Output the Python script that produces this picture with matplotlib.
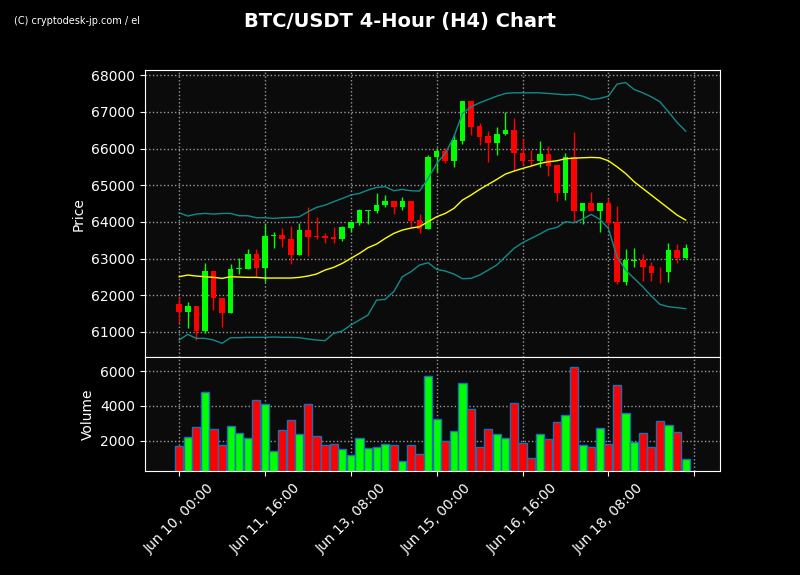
import matplotlib
matplotlib.use("Agg")
import matplotlib.pyplot as plt
import numpy as np

def p(z): return 68136 - 9.08*z

opens_z = [702,725,708,783,603,683,728,598,596,552,593,498,495,508,555,480,498,498,502,507,473,458,422,422,405,393,410,393,451,478,
           262,243,272,212,93,168,198,218,193,180,250,270,272,252,285,368,262,422,400,424,400,455,635,572,570,588,605,607,540,563]
closes_z = [725,708,783,603,683,728,598,594,552,593,498,494,508,555,480,500,500,503,507,470,455,420,420,405,393,410,393,453,478,262,
            243,272,210,93,170,200,218,192,180,250,272,272,252,287,368,262,422,400,424,400,458,635,570,570,590,608,607,540,563,535]
highs_z = [680,695,708,580,603,683,583,565,538,538,462,486,475,468,460,412,442,488,472,468,455,418,420,370,375,393,380,393,432,256,
           235,235,193,93,93,160,183,172,127,145,205,240,213,228,285,250,186,400,367,400,383,407,536,535,552,575,590,520,522,523]
lows_z = [760,775,810,790,720,770,728,612,596,618,636,535,532,583,555,558,508,520,520,512,485,465,462,430,412,432,420,470,490,478,
          305,280,290,222,196,226,275,256,196,302,285,285,292,318,393,390,455,462,424,487,470,642,645,592,632,632,640,637,580,568]
opens = [round(p(z)) for z in opens_z]
closes = [round(p(z)) for z in closes_z]
highs = [round(p(z)) for z in highs_z]
lows = [round(p(z)) for z in lows_z]

volumes = [1710,2223,2792,4785,2679,1767,2849,2451,2166,4330,4102,1426,2622,3191,2394,4102,2280,1767,1824,1540,
           1198,2166,1597,1654,1824,1767,856,1767,1255,5696,3248,1995,2565,5298,3817,1654,2679,2394,2166,4159,
           1881,1027,2394,2109,3077,3476,6209,1767,1654,2735,1824,5184,3590,1938,2451,1654,3134,2906,2508,970]

mid_z = [620,615,618,620,622,625,620,621,622,622,624,624,624,624,622,618,612,600,592,580,565,550,533,522,505,490,480,474,470,455,
         440,430,415,390,375,358,343,328,312,303,295,288,280,275,272,266,264,263,262,263,272,290,310,335,355,375,395,415,435,450]
upper_z = [428,438,432,430,432,430,430,437,437,443,443,445,443,442,440,425,412,405,395,385,375,370,360,352,350,362,358,362,363,325,
           280,250,200,130,110,98,88,78,70,68,68,68,68,70,72,74,73,78,88,85,78,42,37,58,68,80,95,125,157,183]
lower_z = [810,793,805,805,810,820,803,803,802,802,802,801,802,802,803,807,810,812,790,783,765,750,735,690,688,665,620,605,585,578,
           598,603,612,626,625,615,600,585,560,535,518,505,492,478,472,455,458,447,433,448,475,560,600,625,650,678,703,710,713,716]
sma = [p(z) for z in mid_z]
bb_upper = [p(z) for z in upper_z]
bb_lower = [p(z) for z in lower_z]

tick_pos = [0,10,20,30,40,50,60]
tick_labels = ["Jun 10, 00:00","Jun 11, 16:00","Jun 13, 08:00","Jun 15, 00:00","Jun 16, 16:00","Jun 18, 08:00",""]

fig = plt.figure(figsize=(8,5.75), dpi=100, facecolor="black")
axp = fig.add_axes([0.181,0.379,0.719,0.499])
axv = fig.add_axes([0.181,0.181,0.719,0.198], sharex=axp)
x = np.arange(len(opens))
for ax in (axp, axv):
    ax.set_facecolor("#0b0b0b")
    for s in ax.spines.values(): s.set_color("white")
    ax.tick_params(colors="white", labelsize=10)
    ax.grid(True, color="#999999", linestyle=":", linewidth=1)
    ax.set_axisbelow(True)

for i in x:
    up = closes[i] >= opens[i]
    c = "#00ff00" if up else "#ff0000"
    axp.vlines(i, lows[i], highs[i], color=c, linewidth=1, zorder=2)
    lo, hi = min(opens[i],closes[i]), max(opens[i],closes[i])
    axp.bar(i, max(hi-lo, 20), bottom=lo, width=0.65, color=c, zorder=3)
axp.plot(x, sma, color="yellow", linewidth=1, zorder=4)
axp.plot(x, bb_upper, color="#138a8a", linewidth=1, zorder=4)
axp.plot(x, bb_lower, color="#138a8a", linewidth=1, zorder=4)
axp.set_ylim(60316, 68136)
axp.set_yticks(range(61000,68001,1000))
axp.set_ylabel("Price", color="white", fontsize=10)
plt.setp(axp.get_xticklabels(), visible=False)
axp.tick_params(axis="x", length=0)

vcol = ["#00ff00" if closes[i] >= opens[i] else "#ff0000" for i in x]
axv.bar(x, volumes, width=0.95, color=vcol, edgecolor="#1f6fb4", linewidth=1)
axv.set_ylim(270, 6800)
axv.set_yticks([2000,4000,6000])
axv.set_ylabel("Volume", color="white", fontsize=10)
axv.set_xlim(-4, 63)
axv.set_xticks(tick_pos)
axv.set_xticklabels(tick_labels, rotation=45)

fig.text(0.5, 0.98, "BTC/USDT 4-Hour (H4) Chart", color="white", fontsize=14, fontweight="bold", ha="center", va="top")
fig.text(0.018, 0.972, "(C) cryptodesk-jp.com / el", color="white", fontsize=7, ha="left", va="top")
fig.savefig("out.png", dpi=100, facecolor="black")
